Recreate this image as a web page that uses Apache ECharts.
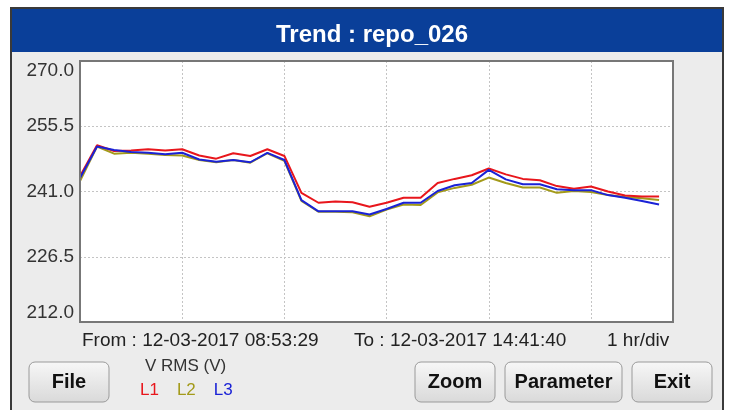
<!DOCTYPE html>
<html>
<head>
<meta charset="utf-8">
<script src="https://cdn.jsdelivr.net/npm/echarts@6/dist/echarts.min.js"></script>
<style>
  html, body { margin: 0; padding: 0; background: #fff; }
  #chart { width: 729px; height: 410px; }
</style>
</head>
<body>
<div id="chart"></div>
<script>
// minutes since 12-03-2017 08:53:29 (one sample every 10 min)
var minutes = [0, 10, 20, 30, 40, 50, 60, 70, 80, 90, 100, 110, 120, 130, 140, 150, 160, 170,
  180, 190, 200, 210, 220, 230, 240, 250, 260, 270, 280, 290, 300, 310, 320, 330, 340];
var spanMinutes = 348.18; // 08:53:29 -> 14:41:40

var l1 = [244.4, 251.3, 250.0, 250.1, 250.4, 250.1, 250.4, 249.0, 248.3, 249.5, 248.9, 250.4,
  248.9, 240.7, 238.5, 238.8, 238.6, 237.6, 238.5, 239.6, 239.6, 242.9, 243.8, 244.6, 246.1,
  244.8, 243.8, 243.5, 242.2, 241.6, 242.1, 241.0, 240.1, 239.9, 239.9];
var l2 = [243.3, 251.0, 249.4, 249.6, 249.4, 249.1, 249.0, 248.0, 247.5, 248.0, 247.4, 249.5,
  247.8, 238.9, 236.5, 236.5, 236.4, 235.5, 237.0, 238.1, 238.0, 240.8, 241.8, 242.5, 244.1,
  242.9, 241.9, 241.9, 240.7, 241.1, 240.9, 240.2, 239.8, 239.5, 239.1];
var l3 = [244.0, 251.0, 250.2, 249.8, 249.6, 249.3, 249.6, 248.1, 247.6, 248.0, 247.5, 249.6,
  248.0, 239.1, 236.6, 236.6, 236.6, 235.9, 237.1, 238.5, 238.5, 241.1, 242.4, 242.9, 245.8,
  243.7, 242.6, 242.6, 241.5, 241.3, 241.3, 240.2, 239.6, 238.9, 238.1];

var yMin = 212.0, yMax = 270.0, yStep = 14.5;
var phaseColors = { L1: '#e8161c', L2: '#a39a1a', L3: '#1a22d6' };

var fontFam = 'Arial, "Liberation Sans", sans-serif';

// plot box (same numbers as the grid below)
var plotL = 80, plotT = 61, plotR = 56, plotB = 88;

function pairs(vals) {
  return minutes.map(function (m, i) { return [m, vals[i]]; });
}

//按钮
function button(x, w, label) {
  return {
    type: 'group',
    children: [
      {
        type: 'rect',
        shape: { x: x, y: 362, width: w, height: 40, r: 6 },
        style: {
          fill: new echarts.graphic.LinearGradient(0, 0, 0, 1, [
            { offset: 0, color: '#f7f7f7' },
            { offset: 1, color: '#d9d9d9' }
          ]),
          stroke: '#9a9a9a',
          lineWidth: 1
        }
      },
      {
        type: 'text',
        x: x + w / 2,
        y: 382,
        style: {
          text: label,
          fill: '#111',
          font: 'bold 20px ' + fontFam,
          textAlign: 'center',
          textVerticalAlign: 'middle'
        }
      }
    ]
  };
}

var myChart = echarts.init(document.getElementById('chart'));

var option = {
  animation: false,
  backgroundColor: '#ffffff',
  title: {
    text: 'Trend : repo_026',
    left: 367,
    top: 18,
    textAlign: 'center',
    textStyle: { color: '#ffffff', fontSize: 24, fontWeight: 'bold', fontFamily: fontFam }
  },
  legend: {
    left: 130,
    top: 377,
    icon: 'none',
    itemWidth: 0,
    itemGap: 13,
    selectedMode: false,
    data: [
      { name: 'L1', textStyle: { color: phaseColors.L1 } },
      { name: 'L2', textStyle: { color: phaseColors.L2 } },
      { name: 'L3', textStyle: { color: phaseColors.L3 } }
    ],
    textStyle: { fontSize: 17, fontFamily: fontFam, padding: 0 }
  },
  grid: {
    left: plotL,
    top: plotT,
    right: plotR,
    bottom: plotB,
    show: true,
    backgroundColor: '#ffffff',
    borderWidth: 0
  },
  xAxis: {
    type: 'value',
    min: 0,
    max: spanMinutes,
    interval: 60,
    axisLine: { show: false },
    axisTick: { show: false },
    axisLabel: { show: false },
    splitLine: { show: true, lineStyle: { color: '#c4c4c4', type: [2, 2], width: 1 } }
  },
  yAxis: {
    type: 'value',
    min: yMin,
    max: yMax,
    interval: yStep,
    axisLine: { show: false },
    axisTick: { show: false },
    axisLabel: {
      color: '#333',
      fontSize: 19,
      fontFamily: fontFam,
      margin: 6,
      formatter: function (v) { return v.toFixed(1); },
      verticalAlignMaxLabel: 'top',
      verticalAlignMinLabel: 'bottom'
    },
    splitLine: { show: true, lineStyle: { color: '#c4c4c4', type: [2, 2], width: 1 } }
  },
  graphic: [
    //外框和标题栏
    {
      type: 'rect', z: -100, silent: true,
      shape: { x: 11, y: 8, width: 712, height: 410 },
      style: { fill: '#ececec', stroke: '#3a3a3a', lineWidth: 2 }
    },
    {
      type: 'rect', z: -99, silent: true,
      shape: { x: 12, y: 9, width: 710, height: 43 },
      style: { fill: '#0a3f99' }
    },
    //绘图区边框
    {
      type: 'rect', z: 100, silent: true,
      shape: { x: plotL, y: plotT, width: 729 - plotL - plotR, height: 410 - plotT - plotB },
      style: { fill: null, stroke: '#777777', lineWidth: 2 }
    },
    {
      type: 'text', left: 82, top: 331,
      style: { text: 'From : 12-03-2017 08:53:29', fill: '#222', font: '19px ' + fontFam }
    },
    {
      type: 'text', left: 354, top: 331,
      style: { text: 'To : 12-03-2017 14:41:40', fill: '#222', font: '19px ' + fontFam }
    },
    {
      type: 'text', left: 607, top: 331,
      style: { text: '1 hr/div', fill: '#222', font: '19px ' + fontFam }
    },
    {
      type: 'text', left: 145, top: 358,
      style: { text: 'V RMS (V)', fill: '#333', font: '17px ' + fontFam }
    },
    button(29, 80, 'File'),
    button(415, 80, 'Zoom'),
    button(505, 117, 'Parameter'),
    button(632, 80, 'Exit')
  ],
  series: [
    {
      name: 'L2', type: 'line', data: pairs(l2), symbol: 'none',
      lineStyle: { color: phaseColors.L2, width: 2 }, itemStyle: { color: phaseColors.L2 }
    },
    {
      name: 'L1', type: 'line', data: pairs(l1), symbol: 'none',
      lineStyle: { color: phaseColors.L1, width: 2 }, itemStyle: { color: phaseColors.L1 }
    },
    {
      name: 'L3', type: 'line', data: pairs(l3), symbol: 'none',
      lineStyle: { color: phaseColors.L3, width: 2 }, itemStyle: { color: phaseColors.L3 }
    }
  ]
};

myChart.setOption(option);
</script>
</body>
</html>
